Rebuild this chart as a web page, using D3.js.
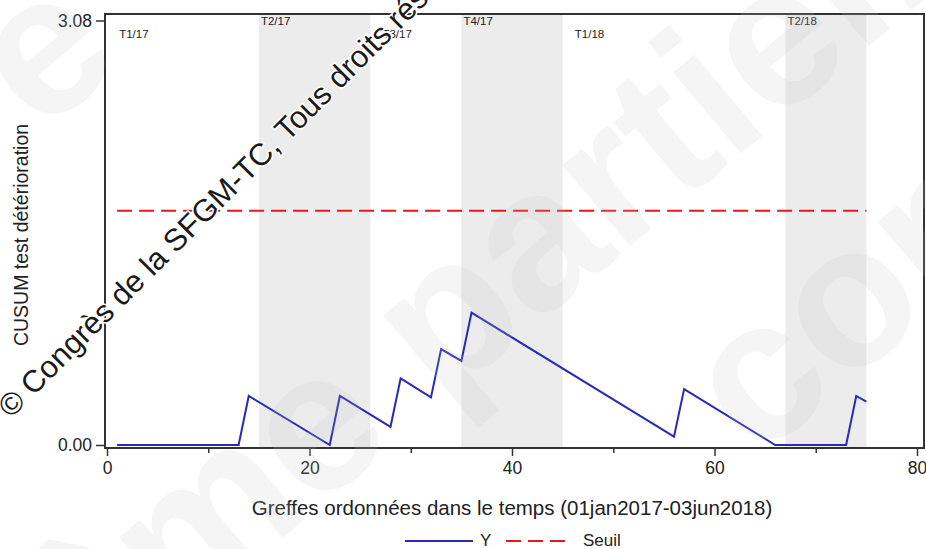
<!DOCTYPE html>
<html>
<head>
<meta charset="utf-8">
<script src="https://cdn.jsdelivr.net/npm/d3@7"></script>
<style>
  body { margin: 0; background: #fff; }
  svg { display: block; font-family: "Liberation Sans", Arial, sans-serif; }
</style>
</head>
<body>
<svg id="chart" width="926" height="549"></svg>
<script>
// CUSUM vertices (graft rank, CUSUM value)
var graftX = [1, 13, 14, 22, 23, 28, 29, 32, 33, 35, 36, 56, 57, 66, 73, 74, 75];
var cusumY = [0, 0, 0.356, 0, 0.356, 0.132, 0.483, 0.345, 0.696, 0.61, 0.96, 0.061, 0.406, 0, 0, 0.356, 0.315];

var seuilValue = 1.70;
var seuilFrom = 1, seuilTo = 75;

var quarters = ["T1/17", "T2/17", "T3/17", "T4/17", "T1/18", "T2/18"];
var quarterStart = [1, 15, 26, 35, 45, 67];
var quarterEnd = [15, 26, 35, 45, 67, 75];
var quarterShaded = [false, true, false, true, false, true];
var quarterLabelAt = [1.2, 15.2, 27.2, 35.2, 46.2, 67.2];

var yTicks = [0, 3.08];
var xMajor = [0, 20, 40, 60, 80];
var xMinor = [10, 30, 50, 70];

var legendNames = ["Y", "Seuil"];

var blue = "#2a2ab2",
    red = "#e3191c";

var svg = d3.select('#chart');

var frame = {left: 105, right: 924, top: 14, bottom: 448};

var x = d3.scaleLinear().domain([0, 80]).range([107, 917]);
var y = d3.scaleLinear().domain([0, 3.08]).range([445, 20.5]);

// quarter bands
var qdata = quarters.map(function(q, i) {
    return {name: q, start: quarterStart[i], end: quarterEnd[i], shaded: quarterShaded[i], at: quarterLabelAt[i], row: i % 2};
});
svg.append('g')
    .selectAll('rect')
    .data(qdata.filter(function(d) { return d.shaded; }))
    .enter().append('rect')
    .attr('x', function(d) { return x(d.start); })
    .attr('width', function(d) { return x(d.end) - x(d.start); })
    .attr('y', frame.top)
    .attr('height', frame.bottom - frame.top)
    .attr('fill', '#ececec');

svg.append('g')
    .selectAll('text')
    .data(qdata)
    .enter().append('text')
    .attr('x', function(d) { return x(d.at); })
    .attr('y', function(d) { return d.row == 1 ? 25 : 38; })
    .attr('font-size', 11.5)
    .attr('fill', '#222')
    .text(function(d) { return d.name; });

// seuil
svg.append('line')
    .attr('x1', x(seuilFrom)).attr('x2', x(seuilTo))
    .attr('y1', y(seuilValue)).attr('y2', y(seuilValue))
    .attr('stroke', red)
    .attr('stroke-width', 2)
    .attr('stroke-dasharray', '15,7');

// cusum line
var pts = graftX.map(function(g, i) { return [g, cusumY[i]]; });
var lineGen = d3.line()
    .x(function(d) { return x(d[0]); })
    .y(function(d) { return y(d[1]); });
svg.append('path')
    .attr('d', lineGen(pts))
    .attr('fill', 'none')
    .attr('stroke', blue)
    .attr('stroke-width', 2)
    .attr('stroke-linejoin', 'miter');

// frame
svg.append('rect')
    .attr('x', frame.left).attr('y', frame.top)
    .attr('width', frame.right - frame.left)
    .attr('height', frame.bottom - frame.top)
    .attr('fill', 'none')
    .attr('stroke', '#333')
    .attr('stroke-width', 2);

// axes
var yAxis = svg.append('g')
    .attr('transform', 'translate(' + frame.left + ',0)')
    .call(d3.axisLeft(y).tickValues(yTicks).tickFormat(d3.format('.2f')).tickSize(9).tickPadding(4));
var xAxis = svg.append('g')
    .attr('transform', 'translate(0,' + frame.bottom + ')')
    .call(d3.axisBottom(x).tickValues(xMajor).tickSize(8).tickPadding(6));
var xMinorAxis = svg.append('g')
    .attr('transform', 'translate(0,' + frame.bottom + ')')
    .call(d3.axisBottom(x).tickValues(xMinor).tickSize(5).tickFormat(''));
[yAxis, xAxis, xMinorAxis].forEach(function(a) {
    a.select('.domain').remove();
    a.selectAll('line').attr('stroke', '#333').attr('stroke-width', 1.5);
    a.selectAll('text')
        .attr('font-family', '"Liberation Sans", Arial, sans-serif')
        .attr('font-size', 17.5)
        .attr('fill', '#222');
});

// axis titles
svg.append('text')
    .attr('transform', 'translate(28,235) rotate(-90)')
    .attr('text-anchor', 'middle')
    .attr('font-size', 19.5)
    .attr('fill', '#222')
    .text('CUSUM test détérioration');
svg.append('text')
    .attr('x', 512).attr('y', 515)
    .attr('text-anchor', 'middle')
    .attr('font-size', 20.5)
    .attr('fill', '#222')
    .text('Greffes ordonnées dans le temps (01jan2017-03jun2018)');

// legend
var leg = svg.append('g');
leg.append('line')
    .attr('x1', 405).attr('x2', 473).attr('y1', 541).attr('y2', 541)
    .attr('stroke', blue).attr('stroke-width', 2);
leg.append('text').attr('x', 480).attr('y', 546).attr('font-size', 17).attr('fill', '#222').text(legendNames[0]);
leg.append('line')
    .attr('x1', 506).attr('x2', 566).attr('y1', 541).attr('y2', 541)
    .attr('stroke', red).attr('stroke-width', 2)
    .attr('stroke-dasharray', '15,7');
leg.append('text').attr('x', 583).attr('y', 546).attr('font-size', 17).attr('fill', '#222').text(legendNames[1]);

// faint background watermark
var wm = svg.append('g')
    .attr('transform', 'translate(322,437) rotate(-40)')
    .attr('font-size', 200)
    .attr('font-weight', 'bold')
    .attr('fill', '#c4c4c4')
    .attr('opacity', 0.16);
wm.append('text').attr('x', -522).attr('y', 52).text('même partielle');
wm.append('text').attr('x', 317).attr('y', 298).text('consentement');
wm.append('text').attr('x', -22).attr('y', -412).text('e');

// copyright watermark
svg.append('text')
    .attr('transform', 'translate(11,419) rotate(-45)')
    .attr('font-size', 31)
    .attr('fill', '#1a1a1a')
    .attr('stroke', '#fff')
    .attr('stroke-width', 3)
    .attr('paint-order', 'stroke')
    .text('© Congrès de la SFGM-TC, Tous droits réservés');
</script>
</body>
</html>
